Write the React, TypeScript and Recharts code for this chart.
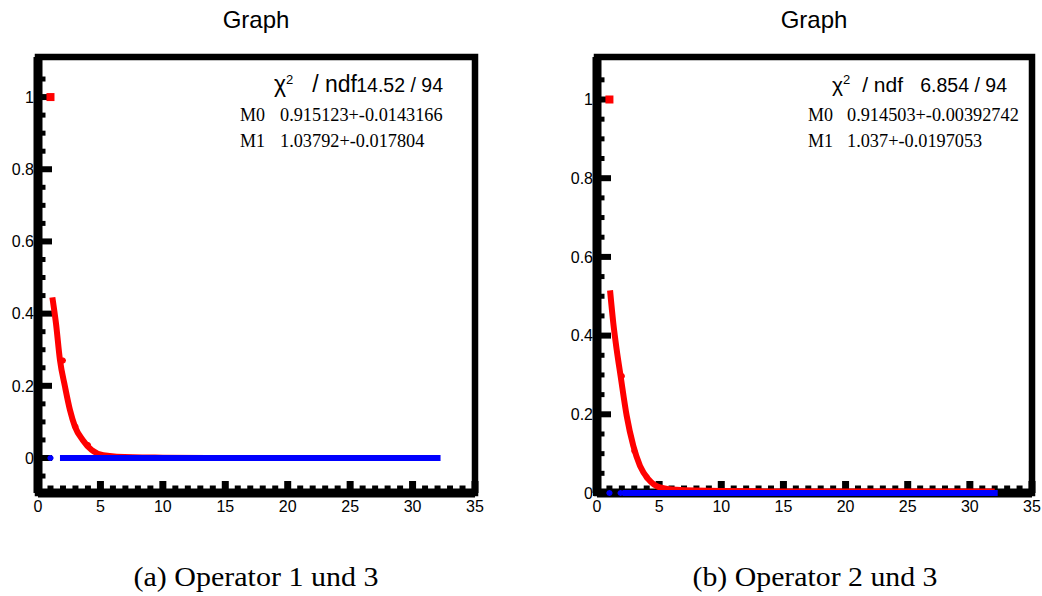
import React from 'react';
import { ComposedChart, Line, Scatter, XAxis, YAxis, ReferenceArea } from 'recharts';

// ---------- data ----------
const xTicks = [0, 1, 2, 3, 4, 5, 6, 7, 8, 9, 10, 11, 12, 13, 14, 15, 16, 17, 18, 19, 20, 21, 22, 23, 24, 25, 26, 27, 28, 29, 30, 31, 32, 33, 34, 35];
const xMajor = [0, 5, 10, 15, 20, 25, 30, 35];
const yTicksA = [-0.05, 0, 0.05, 0.1, 0.15, 0.2, 0.25, 0.3, 0.35, 0.4, 0.45, 0.5, 0.55, 0.6, 0.65, 0.7, 0.75, 0.8, 0.85, 0.9, 0.95, 1, 1.05];
const yTicksB = [0, 0.05, 0.1, 0.15, 0.2, 0.25, 0.3, 0.35, 0.4, 0.45, 0.5, 0.55, 0.6, 0.65, 0.7, 0.75, 0.8, 0.85, 0.9, 0.95, 1, 1.05];
const yMajor = [0, 0.2, 0.4, 0.6, 0.8, 1];
const yMajorLabels = ['0', '0.2', '0.4', '0.6', '0.8', '1'];

// panel (a): Operator 1 und 3
const fitAX = [1.15, 1.44, 1.76, 2.16, 2.56, 2.96, 3.58, 4.3, 5.23, 7.6, 10, 15, 20, 25, 32];
const fitAY = [0.445, 0.373, 0.271, 0.198, 0.133, 0.087, 0.05, 0.022, 0.008, 0.002, 0.001, 0, 0, 0, 0];
const redAX = [1, 2, 3, 4];
const redAY = [1, 0.27, 0.087, 0.036];
const blueIsoAX = [1];
const blueIsoAY = [0];
const blueBandAX = [2, 3, 4, 5, 6, 7, 8, 9, 10, 11, 12, 13, 14, 15, 16, 17, 18, 19, 20, 21, 22, 23, 24, 25, 26, 27, 28, 29, 30, 31, 32];
const blueBandAY = [0, 0, 0, 0, 0, 0, 0, 0, 0, 0, 0, 0, 0, 0, 0, 0, 0, 0, 0, 0, 0, 0, 0, 0, 0, 0, 0, 0, 0, 0, 0];

// panel (b): Operator 2 und 3
const fitBX = [1.05, 1.31, 1.58, 1.9, 2.39, 2.92, 3.46, 4.13, 5.07, 6.4, 10, 15, 20, 25, 32];
const fitBY = [0.515, 0.432, 0.365, 0.297, 0.196, 0.12, 0.069, 0.035, 0.014, 0.008, 0.005, 0.004, 0.004, 0.004, 0.004];
const redBX = [1, 2, 3, 4];
const redBY = [1, 0.297, 0.107, 0.04];
const blueIsoBX = [1, 1.9];
const blueIsoBY = [0, 0];
const blueBandBX = [2.3, 3, 4, 5, 6, 7, 8, 9, 10, 11, 12, 13, 14, 15, 16, 17, 18, 19, 20, 21, 22, 23, 24, 25, 26, 27, 28, 29, 30, 31, 32];
const blueBandBY = [0, 0, 0, 0, 0, 0, 0, 0, 0, 0, 0, 0, 0, 0, 0, 0, 0, 0, 0, 0, 0, 0, 0, 0, 0, 0, 0, 0, 0, 0, 0];

const zip = (xs: number[], ys: number[]) => xs.map((x, i) => ({ x, y: ys[i] }));

const SANS = '"Liberation Sans", Arial, Helvetica, sans-serif';
const SERIF = '"Liberation Serif", "Times New Roman", serif';

const near = (arr: number[], v: number) => arr.findIndex((a) => Math.abs(a - v) < 1e-6);

function XTick(props: any) {
  const { x, y, payload } = props;
  const v = payload.value;
  const major = near(xMajor, v) >= 0;
  return (
    <g>
      <line x1={x} x2={x} y1={y} y2={y - (major ? 12 : 7.5)} stroke="#000" strokeWidth={major ? 7 : 6} />
      {major && (
        <text x={x} y={y + 19} textAnchor="middle" fontFamily={SANS} fontSize={16} fill="#000">
          {String(v)}
        </text>
      )}
    </g>
  );
}

function YTick(props: any) {
  const { x, y, payload } = props;
  const v = payload.value;
  const idx = near(yMajor, v);
  const major = idx >= 0;
  return (
    <g>
      {major && (
        <text x={x - 4} y={y} dy="0.36em" textAnchor="end" fontFamily={SANS} fontSize={16} fill="#000">
          {yMajorLabels[idx]}
        </text>
      )}
      <line x1={x - 4} x2={x + (major ? 14 : 7.5)} y1={y} y2={y} stroke="#000" strokeWidth={major ? 6 : 5} />
    </g>
  );
}

const RedSquare = (p: any) => <rect x={p.cx - 4} y={p.cy - 4} width={8} height={8} fill="#ff0000" />;
const Star = (color: string, r: number) => (p: any) => (
  <g stroke={color} strokeWidth={2}>
    <line x1={p.cx - r} x2={p.cx + r} y1={p.cy} y2={p.cy} />
    <line x1={p.cx} x2={p.cx} y1={p.cy - r} y2={p.cy + r} />
    <line x1={p.cx - r * 0.7} x2={p.cx + r * 0.7} y1={p.cy - r * 0.7} y2={p.cy + r * 0.7} />
    <line x1={p.cx - r * 0.7} x2={p.cx + r * 0.7} y1={p.cy + r * 0.7} y2={p.cy - r * 0.7} />
  </g>
);

type PanelProps = {
  left: number;
  margin: { top: number; right: number; bottom: number; left: number };
  yDomain: [number, number];
  yTicks: number[];
  fit: { x: number; y: number }[];
  red: { x: number; y: number }[];
  blueIso: { x: number; y: number }[];
  blueBand: { x: number; y: number }[];
};

function Panel(p: PanelProps) {
  return (
    <>
      {/* layer 1: frame and axes (invisible copy of the fit line gives the axes their data) */}
      <div style={{ position: 'absolute', left: p.left, top: 0 }}>
        <ComposedChart width={521} height={540} margin={p.margin}>
          <XAxis
            type="number"
            dataKey="x"
            domain={[0, 35]}
            ticks={xTicks}
            interval={0}
            height={40}
            tickSize={0}
            tickMargin={0}
            tickLine={false}
            axisLine={{ stroke: '#000', strokeWidth: 9 }}
            tick={XTick}
          />
          <YAxis
            type="number"
            dataKey="y"
            domain={p.yDomain}
            ticks={p.yTicks}
            interval={0}
            width={38}
            tickSize={0}
            tickMargin={0}
            tickLine={false}
            axisLine={{ stroke: '#000', strokeWidth: 9 }}
            tick={YTick}
          />
          <Line data={p.fit} dataKey="y" type="monotone" stroke="none" dot={false} isAnimationActive={false} />
          <ReferenceArea x1={0} x2={35} y1={p.yDomain[0]} y2={p.yDomain[1]} fill="none" stroke="#000" strokeWidth={6.5} ifOverflow="visible" />
        </ComposedChart>
      </div>
      {/* layer 2: series */}
      <div style={{ position: 'absolute', left: p.left, top: 0 }}>
        <ComposedChart width={521} height={540} margin={p.margin}>
          <XAxis type="number" dataKey="x" domain={[0, 35]} height={40} tick={false} tickLine={false} axisLine={false} />
          <YAxis type="number" dataKey="y" domain={p.yDomain} width={38} tick={false} tickLine={false} axisLine={false} />
          <Line data={p.fit} dataKey="y" type="monotone" stroke="#ff0000" strokeWidth={6} dot={false} isAnimationActive={false} />
          <Scatter data={p.red.slice(1)} dataKey="y" fill="#ff0000" shape={Star('#ff0000', 3)} isAnimationActive={false} />
          <Scatter data={p.red.slice(0, 1)} dataKey="y" fill="#ff0000" shape={RedSquare} isAnimationActive={false} />
          <Line data={p.blueBand} dataKey="y" type="linear" stroke="#0000ff" strokeWidth={6} strokeLinecap="square" dot={false} isAnimationActive={false} />
          <Scatter data={p.blueIso} dataKey="y" fill="#0000ff" shape={Star('#0000ff', 3)} isAnimationActive={false} />
        </ComposedChart>
      </div>
    </>
  );
}

function Stats(props: {
  chiX: number; ndfEnd: number; hdrSize: number; valEnd: number; chiVal: string;
  mX: number; vX: number; m0: string; m1: string;
}) {
  return (
    <g fill="#000">
      <text x={props.chiX} y={92} fontFamily={SANS} fontSize={props.hdrSize}>
        χ<tspan dy={-8} fontSize={13}>2</tspan>
      </text>
      <text x={props.ndfEnd} y={92} textAnchor="end" fontFamily={SANS} fontSize={props.hdrSize}>
        / ndf
      </text>
      <text x={props.valEnd} y={92} textAnchor="end" fontFamily={SANS} fontSize={19.5}>
        {props.chiVal}
      </text>
      <text x={props.mX} y={121} fontFamily={SERIF} fontSize={18}>M0</text>
      <text x={props.vX} y={121} fontFamily={SERIF} fontSize={18.3}>{props.m0}</text>
      <text x={props.mX} y={147} fontFamily={SERIF} fontSize={18}>M1</text>
      <text x={props.vX} y={147} fontFamily={SERIF} fontSize={18.3}>{props.m1}</text>
    </g>
  );
}

export default function App() {
  return (
    <div style={{ position: 'absolute', left: 0, top: 0, width: 1042, height: 596, background: '#fff', overflow: 'hidden' }}>
      <Panel
        left={0}
        margin={{ top: 57, right: 46, bottom: 7, left: 0 }}
        yDomain={[-0.097, 1.111]}
        yTicks={yTicksA}
        fit={zip(fitAX, fitAY)}
        red={zip(redAX, redAY)}
        blueIso={zip(blueIsoAX, blueIsoAY)}
        blueBand={zip(blueBandAX, blueBandAY)}
      />
      <Panel
        left={521}
        margin={{ top: 57, right: 10, bottom: 7, left: 38 }}
        yDomain={[0, 1.108]}
        yTicks={yTicksB}
        fit={zip(fitBX, fitBY)}
        red={zip(redBX, redBY)}
        blueIso={zip(blueIsoBX, blueIsoBY)}
        blueBand={zip(blueBandBX, blueBandBY)}
      />
      <svg width={1042} height={596} style={{ position: 'absolute', left: 0, top: 0, pointerEvents: 'none' }}>
        <text x={256} y={28} textAnchor="middle" fontFamily={SANS} fontSize={24} fill="#000">Graph</text>
        <text x={814} y={28} textAnchor="middle" fontFamily={SANS} fontSize={24} fill="#000">Graph</text>
        <Stats chiX={274} ndfEnd={357} hdrSize={23} valEnd={443} chiVal="14.52 / 94"
          mX={240} vX={280} m0="0.915123+-0.0143166" m1="1.03792+-0.017804" />
        <Stats chiX={832} ndfEnd={903} hdrSize={21} valEnd={1007} chiVal="6.854 / 94"
          mX={808} vX={847} m0="0.914503+-0.00392742" m1="1.037+-0.0197053" />
        <text x={256} y={586} textAnchor="middle" fontFamily={SERIF} fontSize={27} fill="#000" textLength={245} lengthAdjust="spacingAndGlyphs">(a) Operator 1 und 3</text>
        <text x={815} y={586} textAnchor="middle" fontFamily={SERIF} fontSize={27} fill="#000" textLength={245} lengthAdjust="spacingAndGlyphs">(b) Operator 2 und 3</text>
      </svg>
    </div>
  );
}
